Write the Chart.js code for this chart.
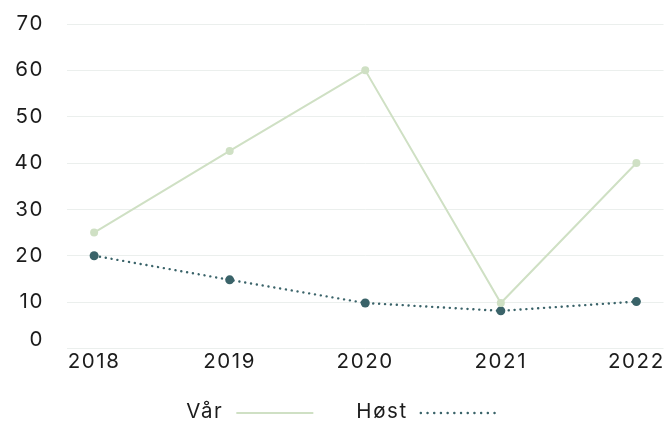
<!DOCTYPE html>
<html>
<head>
<meta charset="utf-8">
<script src="https://cdn.jsdelivr.net/npm/chart.js@4.4.1/dist/chart.umd.min.js"></script>
<style>
  html, body { margin: 0; padding: 0; background: #ffffff; }
  #wrap { width: 668px; height: 426px; position: relative; }
</style>
</head>
<body>
<div id="wrap"><canvas id="chart"></canvas></div>
<script>
// Years on the x axis
const years = [2018, 2019, 2020, 2021, 2022];
// Spring and autumn series
const varValues = [25, 42.6, 60, 9.8, 40];
const hostValues = [20, 14.8, 9.8, 8.1, 10.1];
// Y axis tick values
const yTicks = [0, 10, 20, 30, 40, 50, 60, 70];

const GREEN = '#cfe0c4';
const TEAL = '#3a6369';
const FONT_FAMILY = 'Inter, "Liberation Sans", sans-serif';
const FONT_SIZE = 20.5;
const SPACING = '1.6px';

Chart.defaults.font.family = FONT_FAMILY;
Chart.defaults.font.size = FONT_SIZE;
Chart.defaults.color = '#1c1c1c';

const toPoints = vals => years.map((y, i) => ({ x: y, y: vals[i] }));

// Slightly tracked-out text for every label on the canvas
const spacingPlugin = {
  id: 'spacing',
  beforeInit(chart) { chart.ctx.letterSpacing = SPACING; },
  beforeUpdate(chart) { chart.ctx.letterSpacing = SPACING; },
  beforeDraw(chart) { chart.ctx.letterSpacing = SPACING; }
};

// Legend with the label text first and the line sample after it
const lineLegend = {
  id: 'lineLegend',
  afterDraw(chart) {
    const ctx = chart.ctx;
    const sets = chart.data.datasets;
    const cy = 412;
    const gapText = 13, sample = 77, gapItem = 43;
    ctx.save();
    ctx.letterSpacing = SPACING;
    ctx.font = FONT_SIZE + 'px ' + FONT_FAMILY;
    const widths = sets.map(ds => ctx.measureText(ds.label).width);
    const total = widths.reduce((a, w) => a + w + gapText + sample, 0) + gapItem * (sets.length - 1);
    let x = 342 - total / 2;
    sets.forEach((ds, i) => {
      ctx.fillStyle = '#1c1c1c';
      ctx.textAlign = 'left';
      ctx.textBaseline = 'middle';
      ctx.fillText(ds.label, x, cy);
      x += widths[i] + gapText;
      ctx.beginPath();
      ctx.strokeStyle = ds.borderColor;
      ctx.lineWidth = ds.borderWidth;
      ctx.lineCap = ds.borderCapStyle || 'butt';
      ctx.setLineDash(ds.borderDash ? [0.1, 6.6] : []);
      ctx.moveTo(x, cy + 1);
      ctx.lineTo(x + sample, cy + 1);
      ctx.stroke();
      x += sample + gapItem;
    });
    ctx.restore();
  }
};

new Chart(document.getElementById('chart'), {
  type: 'line',
  data: {
    datasets: [
      {
        label: 'Vår',
        data: toPoints(varValues),
        borderColor: GREEN,
        backgroundColor: GREEN,
        borderWidth: 2,
        pointRadius: 4,
        pointBorderWidth: 0,
        pointBackgroundColor: GREEN,
        tension: 0
      },
      {
        label: 'Høst',
        data: toPoints(hostValues),
        borderColor: TEAL,
        backgroundColor: TEAL,
        borderWidth: 2.4,
        borderDash: [0.1, 5.8],
        borderCapStyle: 'round',
        pointRadius: 4.5,
        pointBorderWidth: 0,
        pointBackgroundColor: TEAL,
        tension: 0
      }
    ]
  },
  options: {
    responsive: true,
    maintainAspectRatio: false,
    animation: false,
    layout: { padding: { top: 24, right: 3, left: 0, bottom: 51 } },
    scales: {
      x: {
        type: 'linear',
        min: years[0] - 0.2,
        max: years[years.length - 1] + 0.2,
        grid: { display: false, drawTicks: false },
        border: { display: false },
        afterBuildTicks: scale => { scale.ticks = years.map(v => ({ value: v })); },
        ticks: {
          padding: 1,
          callback: v => String(v)
        }
      },
      y: {
        min: 0,
        max: 70,
        grid: { color: '#ebefed', lineWidth: 1, drawTicks: false },
        border: { display: false },
        afterBuildTicks: scale => { scale.ticks = yTicks.map(v => ({ value: v })); },
        afterFit: scale => {
          scale.width = 67;
          scale.paddingTop = 0;
          scale.paddingBottom = 0;
        },
        ticks: {
          padding: 23,
          font: { lineHeight: 0.8 },
          // the baseline label sits slightly above its grid line
          callback: v => (v === 0 ? ['0', ''] : String(v))
        }
      }
    },
    plugins: {
      tooltip: { enabled: false },
      legend: { display: false }
    }
  },
  plugins: [spacingPlugin, lineLegend]
});
</script>
</body>
</html>
